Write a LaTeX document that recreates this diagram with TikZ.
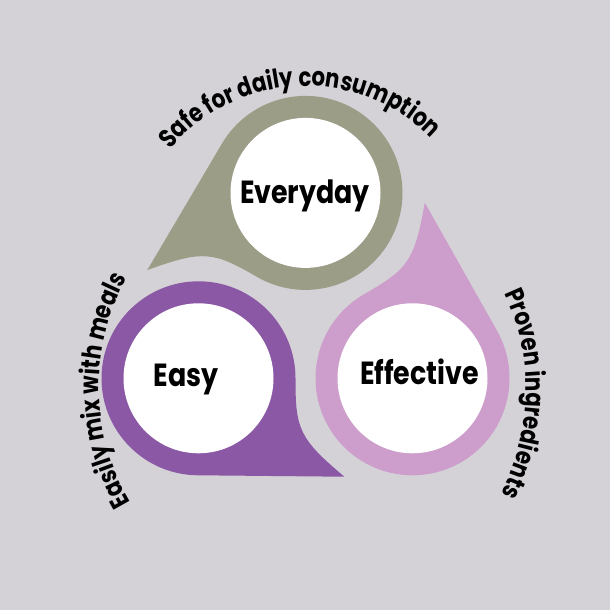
\documentclass[tikz,border=0pt]{standalone}
\usepackage{fontspec}
\setmainfont{Poppins}[FakeStretch=0.84]
\newfontfamily\arcfont{Poppins}[FakeStretch=0.82]
\usetikzlibrary{calc,decorations.text}
\definecolor{bgc}{RGB}{212,210,215}
\definecolor{olivec}{RGB}{155,157,134}
\definecolor{purpc}{RGB}{139,88,166}
\definecolor{pinkc}{RGB}{205,157,203}
\newcommand\mydrop[3]{%
  \fill[#3] ($(#1)+(#2+86:176pt)$) -- ($(#1)+(#2+29.45:97pt)$)
    arc[start angle=#2+29.45, end angle=#2-240, radius=97pt]
    .. controls ($(#1)+(#2+92.7:109.1pt)$) and ($(#1)+(#2+89.07:116.5pt)$) .. cycle;}
\tikzset{
  hole/.style={circle, fill=white, minimum size=150pt, inner sep=0pt},
  lab/.style={font=\bfseries\fontsize{32}{32}\selectfont, anchor=base, inner sep=0pt},
}
\newcommand\arcfmt{\arcfont\bfseries\fontsize{26}{26}\selectfont}
\begin{document}
\begin{tikzpicture}[x=1pt,y=1pt]
\useasboundingbox (0,0) rectangle (610,610);
\fill[bgc] (0,0) rectangle (610,610);
\coordinate (co) at (305.5,417.1);
\coordinate (cp) at (412.5,231.7);
\coordinate (cu) at (198.5,231.7);
\mydrop{co}{120}{olivec}
\mydrop{cp}{0}{pinkc}
\mydrop{cu}{240}{purpc}
\node[hole] (hev) at (co) {};
\node[hole] (hef) at (cp) {};
\node[hole] (hea) at (cu) {};
\node[lab] (tev) at (305,406.7) {Everyday};
\node[lab] (tef) at (419.5,225) {Effective};
\node[lab] (tea) at (186,223) {Easy};
\coordinate (ctop) at (306,348);
\coordinate (cleft) at (326,223);
\coordinate (cright) at (300,220);
\path[decorate, decoration={text along path, text align=center,
  text={|\arcfmt|Safe for daily consumption}}]
  ($(ctop)+(152.5:176pt)$) arc[start angle=152.5, end angle=32.5, radius=176pt];
\path[decorate, decoration={text along path, text align=center,
  text={|\arcfmt|Easily mix with meals}}]
  ($(cleft)+(221:227pt)$) arc[start angle=221, end angle=141, radius=227pt];
\path[decorate, decoration={text along path, text align=center,
  text={|\arcfmt|Proven ingredients}}]
  ($(cright)+(37:226pt)$) arc[start angle=37, end angle=-39, radius=226pt];
\end{tikzpicture}
\end{document}
